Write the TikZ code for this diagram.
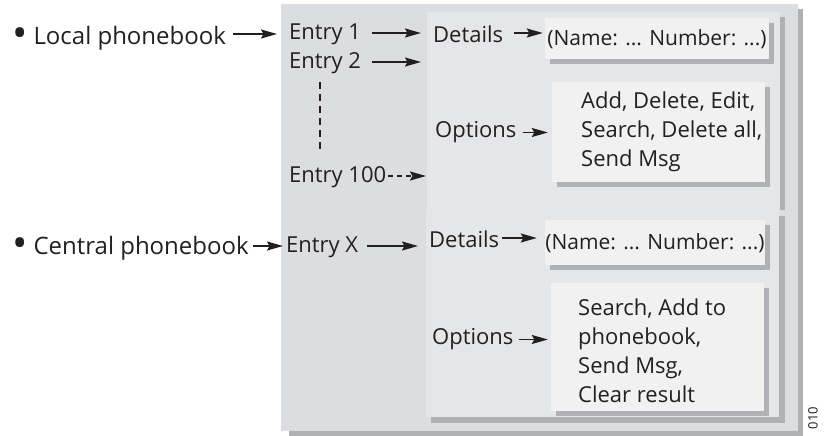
\documentclass[tikz,border=0pt]{standalone}
\usepackage{fontspec}
\setmainfont{Open Sans}
\usetikzlibrary{arrows.meta,shadows}
\definecolor{outerbg}{HTML}{DCDDE0}
\definecolor{innerbg}{HTML}{E5E6E8}
\definecolor{boxbg}{HTML}{F1F1F2}
\definecolor{shadowc}{HTML}{B0B1B4}
\definecolor{ink}{HTML}{231F20}
\newcommand{\bigbul}{\raisebox{-3.2pt}{\scalebox{1.7}{\textbullet}}\hspace{6pt}}
\begin{document}
\begin{tikzpicture}[x=1pt,y=-1pt,
  txt/.style={anchor=west,inner sep=0pt,text=ink,font=\fontsize{22}{29}\selectfont},
  bigtxt/.style={txt,font=\fontsize{24}{29}\selectfont},
  boxtxt/.style={txt,anchor=center,font=\fontsize{21}{29}\selectfont},
  lines/.style={txt,align=left},
  panelbox/.style={draw=none,inner sep=0pt,fill=boxbg,
     drop shadow={shadow xshift=5pt,shadow yshift=-5pt,fill=shadowc,opacity=1}},
  arr/.style={draw=ink,line width=1.7pt,-{Stealth[length=16pt,width=9pt,inset=2.5pt]}},
  darr/.style={arr,dash pattern=on 5pt off 4pt},
  vdash/.style={draw=ink,line width=1.6pt,dash pattern=on 7pt off 5pt},
]
\useasboundingbox (0,0) rectangle (824,436);
% outer panel
\fill[shadowc] (289,9) rectangle (803,436);
\fill[outerbg] (281,4) rectangle (798,431);
% inner panels
\fill[shadowc] (432,17) rectangle (785,210);
\fill[innerbg] (427,12) rectangle (780,210);
\fill[shadowc] (431,216) rectangle (785,423);
\fill[innerbg] (426,210) rectangle (779,417);

% boxes
\node[panelbox,minimum width=224pt,minimum height=41pt] (b1) at (657,38.5) {};
\node[boxtxt] (n1) at ([yshift=-1pt]b1.center) {(Name: ... Number: ...)};
\node[panelbox,minimum width=213pt,minimum height=100pt] (ob1) at (658.5,132) {};
\node[lines] (t1) at (581,131.5) {Add, Delete, Edit,\\Search, Delete all,\\Send Msg};
\node[panelbox,minimum width=220pt,minimum height=45pt] (b2) at (655,242.5) {};
\node[boxtxt] (n2) at ([yshift=-1pt]b2.center) {(Name: ... Number: ...)};
\node[panelbox,minimum width=213pt,minimum height=128pt] (ob2) at (657.5,347) {};
\node[lines] (t2) at (578,350.5) {Search, Add to\\phonebook,\\Send Msg,\\Clear result};

% labels
\node[bigtxt] (lp) at (12,38) {\bigbul Local phonebook};
\node[bigtxt] (cp) at (12,248) {\bigbul Central phonebook};
\node[txt] (e1) at (289,34.5) {Entry 1};
\node[txt] (e2) at (289,63.5) {Entry 2};
\node[txt] (e100) at (289,177.5) {Entry 100};
\node[txt] (ex) at (286,247.5) {Entry X};
\node[txt] (d1) at (433,34.5) {Details};
\node[txt] (o1) at (435,132.5) {Options};
\node[txt] (d2) at (429,239.5) {Details};
\node[txt] (o2) at (432,339.5) {Options};
\node[inner sep=0pt,rotate=90,text=ink,font=\fontsize{13}{13}\selectfont] (code) at (813,418) {010};

\coordinate (e2end) at (421,62);
\coordinate (e100end) at (426,176);
\coordinate (vtop) at (320,82);
\coordinate (vbot) at (320,153);

% connectors
\draw[arr,shorten <=7pt] ([yshift=4pt]lp.east) -- ([xshift=-12pt,yshift=4pt]lp.east -| e1.west);
\draw[arr,shorten <=11pt] ([yshift=1.5pt]e1.east) -- ([xshift=-12pt,yshift=1.5pt]e1.east -| d1.west);
\draw[arr,shorten <=11pt] ([yshift=1.5pt]e2.east) -- (e2end);
\draw[vdash] (vtop) -- (vbot);
\draw[darr,shorten <=2pt] ([yshift=1.5pt]e100.east) -- (e100end);
\draw[arr,shorten <=11pt] ([yshift=1.5pt]d1.east) -- ([xshift=-2pt,yshift=1.5pt]d1.east -| b1.west);
\draw[arr,shorten <=6pt] (o1.east) -- ([xshift=-4pt]o1.east -| ob1.west);
\draw[arr,shorten <=4pt] ([yshift=2pt]cp.east) -- ([xshift=-3pt,yshift=2pt]cp.east -| ex.west);
\draw[arr,shorten <=9pt] ([yshift=1.5pt]ex.east) -- ([xshift=-11pt,yshift=1.5pt]ex.east -| d2.west);
\draw[arr,shorten <=3pt] ([yshift=1.5pt]d2.east) -- ([xshift=-8pt,yshift=1.5pt]d2.east -| b2.west);
\draw[arr,shorten <=5pt] (o2.east) -- ([xshift=-3pt]o2.east -| ob2.west);
\end{tikzpicture}
\end{document}
